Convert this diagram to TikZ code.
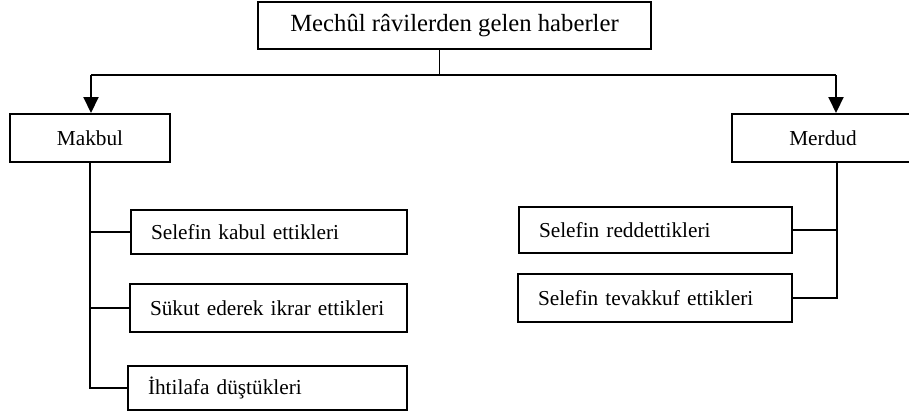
\documentclass[tikz,border=0pt]{standalone}
\usepackage{fontspec}
\setmainfont{Liberation Serif}
\usetikzlibrary{arrows.meta}
\begin{document}
\begin{tikzpicture}[x=1pt,y=-1pt,
  box/.style={draw, line width=2pt, inner sep=0pt, font=\fontsize{21.3}{25}\selectfont},
  leftbox/.style={box, align=left, inner xsep=20pt},
  link/.style={line width=2pt},
  drop/.style={link, -{Triangle[width=15pt,length=16pt]}}]
\useasboundingbox (0,0) rectangle (909,416);
\clip (0,0) rectangle (909,416);

% root and the two categories
\node[box, minimum width=393pt, minimum height=47pt,
      font=\fontsize{24.7}{29}\selectfont] (root) at (454.5,25.5)
  {Mechûl râvilerden gelen haberler};
\node[box, minimum width=160pt, minimum height=48pt] (makbul) at (90,138) {Makbul};
\node[box, minimum width=182pt, minimum height=48pt] (merdud) at (823,138) {Merdud};

% sub-items
\node[leftbox, text width=236pt, minimum height=44pt] (l1) at (269,232) {Selefin kabul ettikleri};
\node[leftbox, text width=237pt, minimum height=48pt] (l2) at (268.5,308) {Sükut ederek ikrar ettikleri};
\node[leftbox, text width=239pt, minimum height=44pt] (l3) at (267.5,388) {İhtilafa düştükleri};
\node[leftbox, text width=233pt, minimum height=46pt] (r1) at (655.5,230) {Selefin reddettikleri};
\node[leftbox, text width=234pt, minimum height=48pt] (r2) at (655,298) {Selefin tevakkuf ettikleri};

% junction points
\coordinate (stem) at (439.5,49);
\coordinate (busL) at (91,75);
\coordinate (busR) at (836,75);
\coordinate (busM) at (439.5,75);
\coordinate (mspine) at (837,162);

% top distribution
\draw[line width=1pt] (stem) -- (busM);
\draw[link] (busL) -- (busR);
\draw[drop] (busL) -- (busL |- makbul.north);
\draw[drop] (busR) -- (busR |- merdud.north);

% left branch
\draw[link] (makbul.south) |- (l3.west);
\draw[link] (makbul.south |- l1.west) -- (l1.west);
\draw[link] (makbul.south |- l2.west) -- (l2.west);

% right branch
\draw[link] (mspine) |- (r2.east);
\draw[link] (mspine |- r1.east) -- (r1.east);
\end{tikzpicture}
\end{document}
